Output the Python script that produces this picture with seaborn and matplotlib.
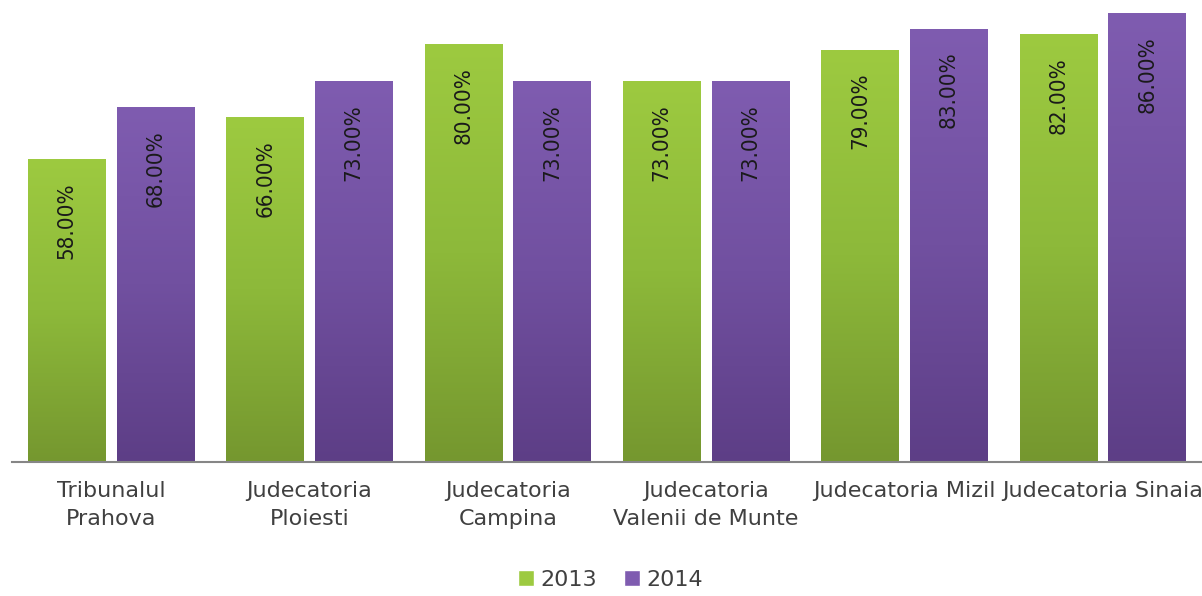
import numpy as np
import pandas as pd
import seaborn as sns
import matplotlib.pyplot as plt
from matplotlib.colors import LinearSegmentedColormap
from matplotlib.patches import Patch

# data
courts = ["Tribunalul\nPrahova", "Judecatoria\nPloiesti", "Judecatoria\nCampina",
          "Judecatoria\nValenii de Munte", "Judecatoria Mizil", "Judecatoria Sinaia"]
years = ["2013", "2014"]
values_2013 = [58, 66, 80, 73, 79, 82]
values_2014 = [68, 73, 73, 73, 83, 86]

green_top, green_mid, green_bottom = "#9dca40", "#8db93a", "#75972f"
purple_top, purple_mid, purple_bottom = "#7f5cb0", "#7150a0", "#5d3e86"

df = pd.DataFrame({
    "court": courts * 2,
    "year": [years[0]] * len(courts) + [years[1]] * len(courts),
    "value": values_2013 + values_2014,
})

sns.set_style("white")
plt.rcParams["font.family"] = ["DejaVu Sans"]

fig = plt.figure(figsize=(12.02, 5.96), dpi=100)
ax = fig.add_axes([0.01, (596 - 462) / 596, 0.99, 462 / 596])

sns.barplot(data=df, x="court", y="value", hue="year",
            palette=[green_top, purple_top], width=0.894, gap=0.124,
            legend=False, ax=ax)

# gradient fill for each bar
grad = np.linspace(0, 1, 256).reshape(-1, 1)
cmaps = [LinearSegmentedColormap.from_list("g", [green_bottom, green_mid, green_top]),
         LinearSegmentedColormap.from_list("p", [purple_bottom, purple_mid, purple_top])]
for i, container in enumerate(ax.containers):
    for bar in container:
        x0, w, h = bar.get_x(), bar.get_width(), bar.get_height()
        bar.set_facecolor("none")
        bar.set_edgecolor("none")
        im = ax.imshow(grad, cmap=cmaps[i], aspect="auto", origin="lower",
                       extent=[x0, x0 + w, 0, h], zorder=2)
        im.set_clip_path(bar)
        ax.annotate(f"{h:.2f}%", xy=(x0 + w / 2, h), xytext=(0, -23),
                    textcoords="offset pixels", rotation=90, ha="center", va="top",
                    fontsize=16, fontstretch="condensed", color="#1a1a1a", zorder=3)

ax.set_xlim(-0.5, len(courts) - 0.5)
ax.set_ylim(0, 88.5)
ax.set_xlabel("")
ax.set_ylabel("")
ax.set_yticks([])
ax.tick_params(axis="x", length=0, pad=14, labelsize=16, labelcolor="#404040")
for lbl in ax.get_xticklabels():
    lbl.set_linespacing(1.45)

sns.despine(ax=ax, left=True)
ax.spines["bottom"].set_color("#868686")
ax.spines["bottom"].set_linewidth(1.5)
ax.spines["bottom"].set_zorder(4)

handles = [Patch(facecolor=green_top, label=years[0]),
           Patch(facecolor=purple_top, label=years[1])]
fig.legend(handles=handles, loc="center", bbox_to_anchor=(0.508, 0.027), ncol=2,
           frameon=False, fontsize=16, labelcolor="#404040",
           handlelength=0.7, handleheight=0.7, handletextpad=0.3, columnspacing=1.2)

fig.savefig("out.png", dpi=100)
